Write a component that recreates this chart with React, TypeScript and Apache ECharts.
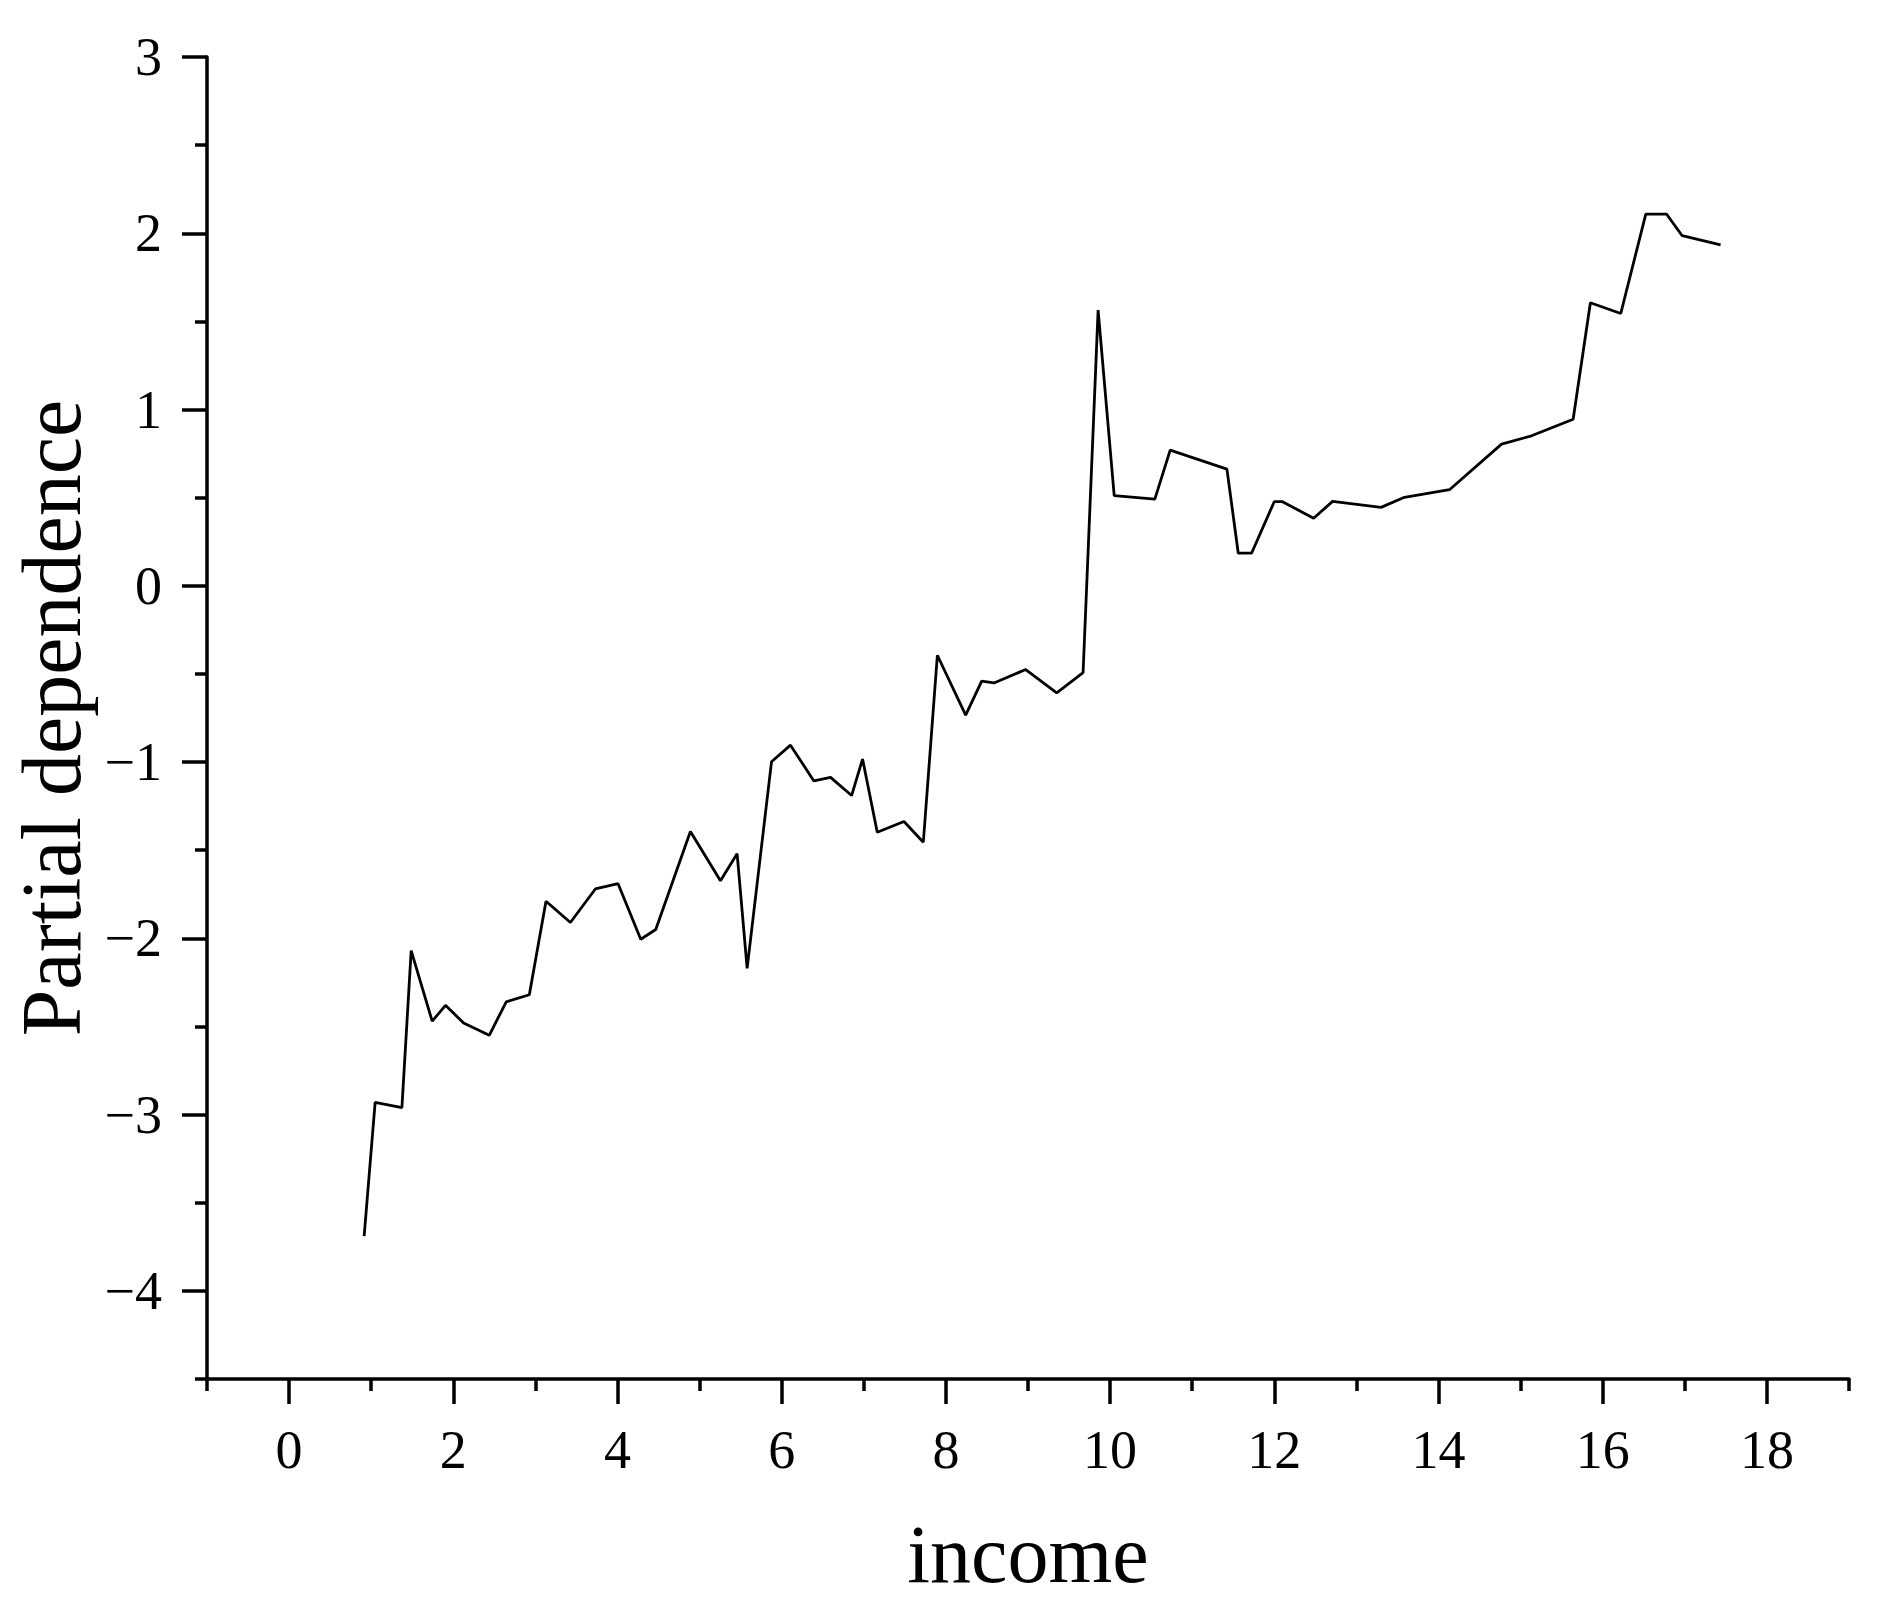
import React, { useEffect, useRef } from "react";
import * as echarts from "echarts";

const incomeValues = [0.914, 1.048, 1.374, 1.487, 1.743, 1.905, 2.125, 2.438, 2.645, 2.926, 3.129, 3.426, 3.73, 4.007, 4.283, 4.466, 4.888, 5.254, 5.457, 5.579, 5.876, 6.107, 6.392, 6.595, 6.851, 6.985, 7.164, 7.489, 7.725, 7.896, 8.241, 8.436, 8.586, 8.972, 9.35, 9.671, 9.854, 10.05, 10.545, 10.732, 11.423, 11.561, 11.723, 11.999, 12.1, 12.479, 12.71, 13.3, 13.585, 14.134, 14.768, 15.134, 15.64, 15.85, 16.22, 16.525, 16.777, 16.968, 17.436];
const dependenceValues = [-3.69, -2.93, -2.96, -2.07, -2.47, -2.38, -2.48, -2.55, -2.36, -2.32, -1.79, -1.91, -1.72, -1.69, -2.005, -1.95, -1.394, -1.673, -1.52, -2.17, -0.998, -0.904, -1.107, -1.087, -1.19, -0.983, -1.398, -1.337, -1.455, -0.394, -0.734, -0.541, -0.551, -0.475, -0.607, -0.492, 1.564, 0.511, 0.492, 0.77, 0.662, 0.185, 0.185, 0.477, 0.477, 0.383, 0.479, 0.445, 0.502, 0.545, 0.804, 0.851, 0.945, 1.606, 1.545, 2.109, 2.109, 1.986, 1.934];

const xMajorTicks = [0, 2, 4, 6, 8, 10, 12, 14, 16, 18];
const xMinorTicks = [-1, 1, 3, 5, 7, 9, 11, 13, 15, 17, 19];
const yMajorTicks = [-4, -3, -2, -1, 0, 1, 2, 3];
const yMinorTicks = [-4.5, -3.5, -2.5, -1.5, -0.5, 0.5, 1.5, 2.5];

const xTitle = "income";
const yTitle = "Partial dependence";

const FONT = "'Liberation Serif', 'Times New Roman', serif";

export default function App() {
  const ref = useRef<HTMLDivElement>(null);
  useEffect(() => {
    if (!ref.current) return;
    const chart = echarts.init(ref.current, null, { renderer: "svg" });
    const axisLine = { show: true, onZero: false, lineStyle: { color: "#000", width: 3.5 } };
    const hiddenLine = { show: false, onZero: false };
    const fmt = (v: number) => String(v).replace("-", "\u2212");
    chart.setOption({
      animation: false,
      backgroundColor: "#fff",
      grid: { left: 207, top: 57, width: 1642, height: 1322, containLabel: false },
      xAxis: [
        {
          type: "value",
          min: -1,
          max: 19,
          position: "bottom",
          axisLine,
          splitLine: { show: false },
          axisTick: { show: true, customValues: xMajorTicks, length: 25, lineStyle: { color: "#000", width: 3.5 } },
          axisLabel: { customValues: xMajorTicks, formatter: fmt, margin: 44, color: "#000", fontFamily: FONT, fontSize: 54 },
          name: xTitle,
          nameLocation: "middle",
          nameGap: 134,
          nameTextStyle: { color: "#000", fontFamily: FONT, fontSize: 82 },
        },
        {
          type: "value",
          min: -1,
          max: 19,
          position: "bottom",
          axisLine: hiddenLine,
          splitLine: { show: false },
          axisTick: { show: true, customValues: xMinorTicks, length: 12, lineStyle: { color: "#000", width: 3.5 } },
          axisLabel: { show: false },
        },
      ],
      yAxis: [
        {
          type: "value",
          min: -4.5,
          max: 3,
          position: "left",
          axisLine,
          splitLine: { show: false },
          axisTick: { show: true, customValues: yMajorTicks, length: 25, lineStyle: { color: "#000", width: 3.5 } },
          axisLabel: { customValues: yMajorTicks, formatter: fmt, margin: 45, color: "#000", fontFamily: FONT, fontSize: 54 },
          name: yTitle,
          nameLocation: "middle",
          nameRotate: 90,
          nameGap: 106,
          nameTextStyle: { color: "#000", fontFamily: FONT, fontSize: 84 },
        },
        {
          type: "value",
          min: -4.5,
          max: 3,
          position: "left",
          axisLine: hiddenLine,
          splitLine: { show: false },
          axisTick: { show: true, customValues: yMinorTicks, length: 12, lineStyle: { color: "#000", width: 3.5 } },
          axisLabel: { show: false },
        },
      ],
      series: [
        {
          type: "line",
          xAxisIndex: 0,
          yAxisIndex: 0,
          data: incomeValues.map((x, i) => [x, dependenceValues[i]]),
          symbol: "none",
          lineStyle: { color: "#000", width: 2.8 },
        },
      ],
    });
    return () => chart.dispose();
  }, []);
  return (
    <div
      ref={ref}
      style={{ position: "fixed", left: 0, top: 0, width: 1886, height: 1604, background: "#fff" }}
    />
  );
}
